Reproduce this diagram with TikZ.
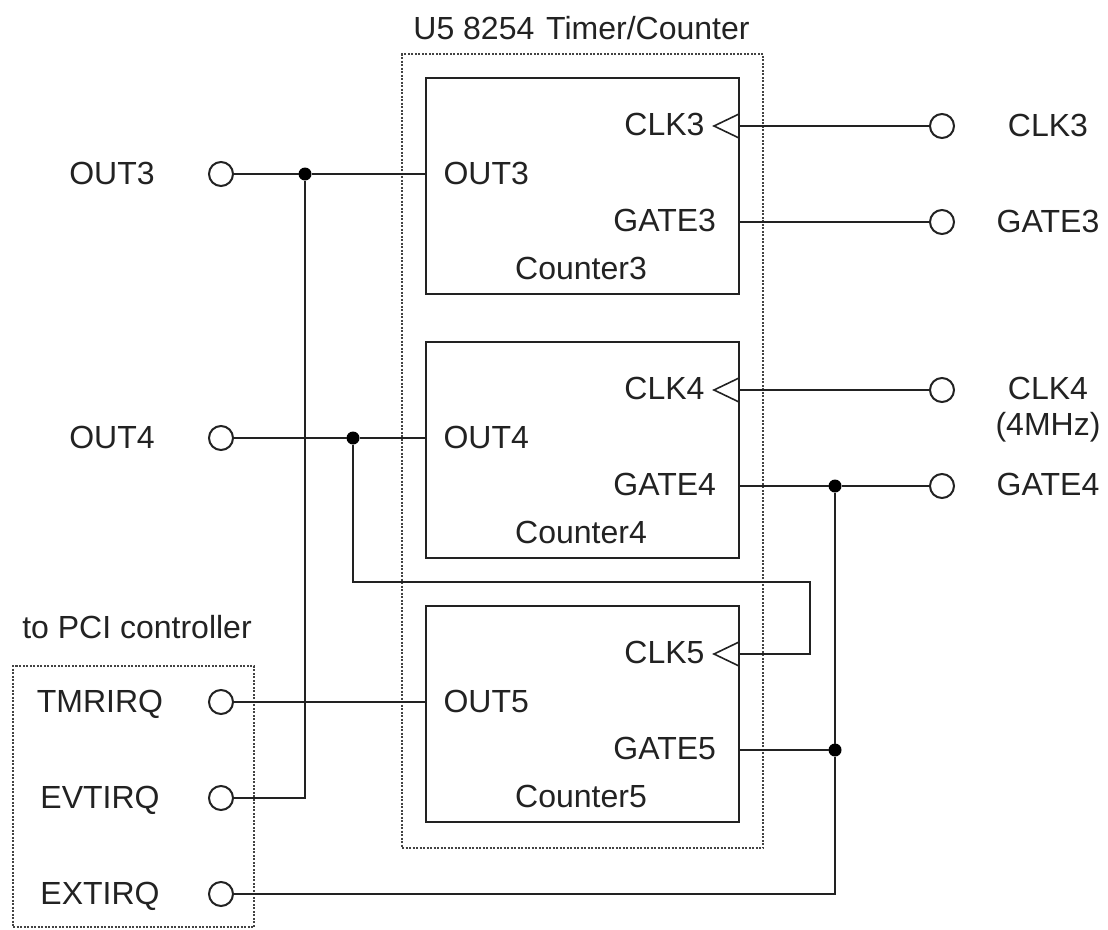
\documentclass[tikz,border=0pt]{standalone}
\usepackage{fontspec}
\setmainfont{Liberation Sans}
\definecolor{ink}{HTML}{222222}
\tikzset{
  every node/.style={inner sep=0pt,outer sep=0pt},
  lbl/.style={text=ink,font=\fontsize{32}{32}\selectfont,anchor=base},
  lblr/.style={text=ink,font=\fontsize{32}{32}\selectfont,anchor=base east},
  lbll/.style={text=ink,font=\fontsize{32}{32}\selectfont,anchor=base west},
  wire/.style={draw=ink,line width=2pt,line join=miter},
  counterbox/.style={draw=ink,line width=2.2pt,minimum width=313pt,minimum height=216pt},
  dotbox/.style={draw=ink!85,line width=2pt,dash pattern=on 2pt off 1.5pt},
  term/.style={circle,draw=ink,fill=white,line width=2pt,minimum size=24pt},
  junction/.style={circle,fill=black,minimum size=13pt},
}
\begin{document}
\begin{tikzpicture}[x=1pt,y=-1pt]
\useasboundingbox (0,0) rectangle (1108,929);
% dotted groups
\node[dotbox,minimum width=361pt,minimum height=794pt] (chip) at (582.5,451) {};
\node[dotbox,minimum width=241pt,minimum height=261pt] (pci) at (133.5,796.5) {};
% counters
\node[counterbox] (c3) at (582.5,186) {};
\node[counterbox] (c4) at (582.5,450) {};
\node[counterbox] (c5) at (582.5,714) {};
% terminals
\node[term] (tOut3) at (221,174) {};
\node[term] (tOut4) at (221,438) {};
\node[term] (tTmr) at (221,702) {};
\node[term] (tEvt) at (221,798) {};
\node[term] (tExt) at (221,894) {};
\node[term] (tClk3) at (942,126) {};
\node[term] (tGate3) at (942,222) {};
\node[term] (tClk4) at (942,390) {};
\node[term] (tGate4) at (942,486) {};
% junctions
\node[junction] (j3) at (305,174) {};
\node[junction] (j4) at (353,438) {};
\node[junction] (jG4) at (835,486) {};
\node[junction] (jG5) at (835,750) {};
% ports
\coordinate (pOut3) at (426,174);
\coordinate (pOut4) at (426,438);
\coordinate (pOut5) at (426,702);
\coordinate (pClk3) at (739,126);
\coordinate (pGate3) at (739,222);
\coordinate (pClk4) at (739,390);
\coordinate (pGate4) at (739,486);
\coordinate (pClk5) at (739,654);
\coordinate (pGate5) at (739,750);
\coordinate (bendEvt) at (305,798);
\coordinate (bendExt) at (835,894);
\coordinate (loopA) at (353,582);
\coordinate (loopB) at (810,582);
\coordinate (loopC) at (810,654);
% clock triangles
\foreach \p in {pClk3,pClk4,pClk5}{
  \draw[draw=ink,line width=1.6pt,line join=miter] ([yshift=-12pt]\p) -- ([xshift=-25pt]\p) -- ([yshift=12pt]\p);
}
% connectors
\draw[wire] (tOut3) -- (j3) -- (pOut3);
\draw[wire] (tOut4) -- (j4) -- (pOut4);
\draw[wire] (tTmr) -- (pOut5);
\draw[wire] (tEvt) -- (bendEvt) -- (j3);
\draw[wire] (tExt) -- (bendExt) -- (jG5) -- (jG4);
\draw[wire] (pClk3) -- (tClk3);
\draw[wire] (pGate3) -- (tGate3);
\draw[wire] (pClk4) -- (tClk4);
\draw[wire] (pGate4) -- (jG4) -- (tGate4);
\draw[wire] (pGate5) -- (jG5);
\draw[wire] (j4) -- (loopA) -- (loopB) -- (loopC) -- (pClk5);
% labels
\node[lbl] (title) at (581.5,39) {U5 8254\hspace{3pt} Timer/Counter};
\node[lbl] (lPci) at (137,638.5) {to PCI controller};
\node[lbl] (lOut3) at (112,184.5) {OUT3};
\node[lbl] (lOut4) at (112,448.5) {OUT4};
\node[lbl] (lTmr) at (100,712) {TMRIRQ};
\node[lbl] (lEvt) at (100,808) {EVTIRQ};
\node[lbl] (lExt) at (100,904.5) {EXTIRQ};
\node[lbl] (rClk3) at (1048,136) {CLK3};
\node[lbl] (rGate3) at (1048,232) {GATE3};
\node[lbl] (rClk4) at (1048,399.5) {CLK4};
\node[lbl] (rMhz) at (1048,435.5) {(4MHz)};
\node[lbl] (rGate4) at (1048,495.5) {GATE4};
\foreach \n/\y in {3/0,4/264,5/528}{
  \node[lbll] (iOut\n) at (443.5,184+\y) {OUT\n};
  \node[lblr] (iClk\n) at (704.5,135+\y) {CLK\n};
  \node[lblr] (iGate\n) at (716,231.5+\y) {GATE\n};
  \node[lbl] (iCnt\n) at (581,279.5+\y) {Counter\n};
}
\end{tikzpicture}
\end{document}
